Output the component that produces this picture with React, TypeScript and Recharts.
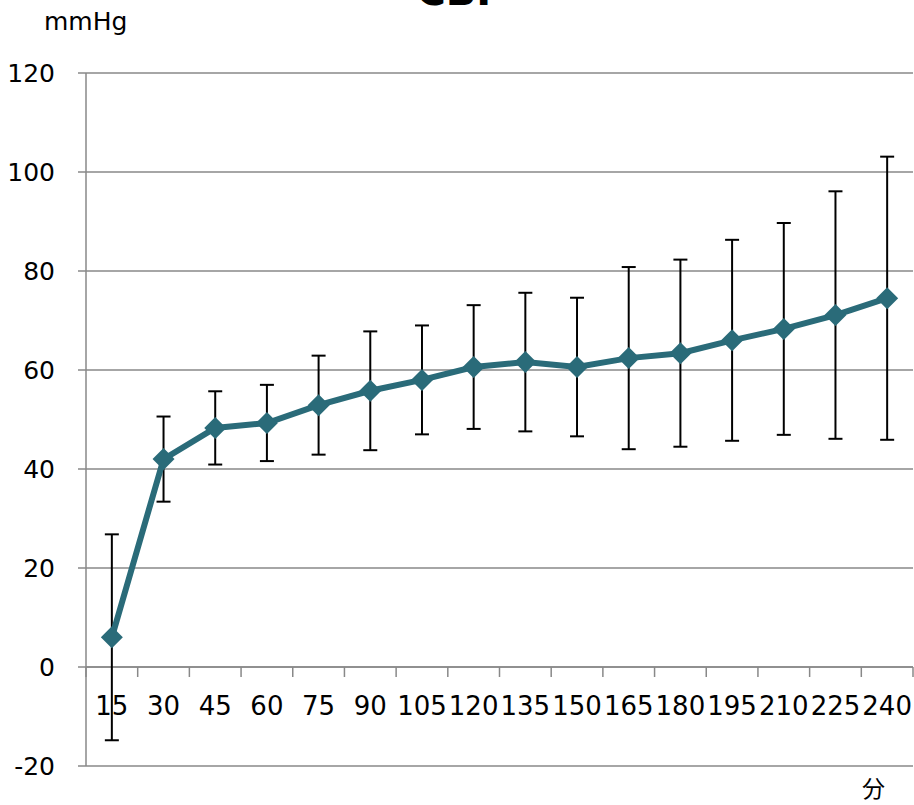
import { ComposedChart, Line, XAxis, YAxis, CartesianGrid, ErrorBar, ReferenceLine } from "recharts";

const TIMES = ["15", "30", "45", "60", "75", "90", "105", "120", "135", "150", "165", "180", "195", "210", "225", "240"];
const MEANS = [6, 42, 48.3, 49.3, 52.9, 55.8, 58, 60.6, 61.6, 60.6, 62.4, 63.4, 66, 68.3, 71.1, 74.5];
const SDS = [20.8, 8.6, 7.4, 7.7, 10, 12, 11, 12.5, 14, 14, 18.4, 18.9, 20.3, 21.4, 25, 28.6];
const Y_TICKS = [-20, 0, 20, 40, 60, 80, 100, 120];

const W = 914;
const H = 805;
const M = { top: 73, right: 1, left: 0, bottom: 0 };
const Y_AXIS_W = 86;
const X_AXIS_H = 39;
const Y_MIN = -20;
const Y_MAX = 120;
const PLOT_H = H - M.top - M.bottom - X_AXIS_H;
// distance from plot bottom (-20) up to the zero line
const ZERO_SHIFT = (PLOT_H * (0 - Y_MIN)) / (Y_MAX - Y_MIN);

const FONT = "'DejaVu Sans', Verdana, sans-serif";
const GRID = "#888888";
const TEAL = "#2a6b79";

const rows = TIMES.map((t, i) => ({ t, mean: MEANS[i], sd: SDS[i] }));

function Diamond(props: any) {
  const { cx, cy } = props;
  if (cx == null || cy == null) return null;
  const r = 11;
  return (
    <polygon
      points={`${cx},${cy - r} ${cx + r},${cy} ${cx},${cy + r} ${cx - r},${cy}`}
      fill={TEAL}
    />
  );
}

function XTick(props: any) {
  const { x, y, payload, index } = props;
  const half = payload?.offset ?? 0;
  const zy = y - ZERO_SHIFT;
  return (
    <g>
      <line x1={x - half} x2={x - half} y1={zy} y2={zy + 10} stroke={GRID} strokeWidth={1.5} />
      {index === TIMES.length - 1 && (
        <line x1={x + half} x2={x + half} y1={zy} y2={zy + 10} stroke={GRID} strokeWidth={1.5} />
      )}
      <text x={x} y={zy + 48} textAnchor="middle" fontSize={26} fontFamily={FONT} fill="#000">
        {payload.value}
      </text>
    </g>
  );
}

export default function App() {
  return (
    <div style={{ position: "absolute", left: 0, top: 0, width: W, height: H, overflow: "hidden", background: "#fff" }}>
      <div
        style={{
          position: "absolute",
          left: 0,
          width: 920,
          top: -29,
          textAlign: "center",
          fontFamily: FONT,
          fontWeight: "bold",
          fontSize: 40,
          lineHeight: "40px",
        }}
      >
        CBF
      </div>
      <div style={{ position: "absolute", left: 44, top: 8, fontFamily: FONT, fontSize: 25, lineHeight: "28px" }}>mmHg</div>
      <div style={{ position: "absolute", left: 862, top: 773, fontFamily: "'Noto Sans CJK JP', sans-serif", fontSize: 23, lineHeight: "28px" }}>
        分
      </div>
      <ComposedChart width={W} height={H} data={rows} margin={M}>
        <CartesianGrid horizontal vertical={false} stroke={GRID} strokeWidth={1.5} />
        <XAxis
          dataKey="t"
          scale="band"
          height={X_AXIS_H}
          axisLine={false}
          tickLine={false}
          tickSize={0}
          tickMargin={0}
          interval={0}
          tick={<XTick />}
        />
        <YAxis
          type="number"
          domain={[Y_MIN, Y_MAX]}
          ticks={Y_TICKS}
          width={Y_AXIS_W}
          axisLine={{ stroke: GRID, strokeWidth: 1.5 }}
          tickLine={{ stroke: GRID, strokeWidth: 1.5 }}
          tickSize={8}
          tickMargin={23}
          tick={{ fontSize: 25, fontFamily: FONT, fill: "#000" }}
          allowDataOverflow
        />
        <ReferenceLine y={0} stroke={GRID} strokeWidth={1.5} />
        <Line
          dataKey="mean"
          stroke={TEAL}
          strokeWidth={6}
          dot={<Diamond />}
          activeDot={false}
          isAnimationActive={false}
        >
          <ErrorBar dataKey="sd" direction="y" width={7} stroke="#000" strokeWidth={2} isAnimationActive={false} />
        </Line>
      </ComposedChart>
    </div>
  );
}
